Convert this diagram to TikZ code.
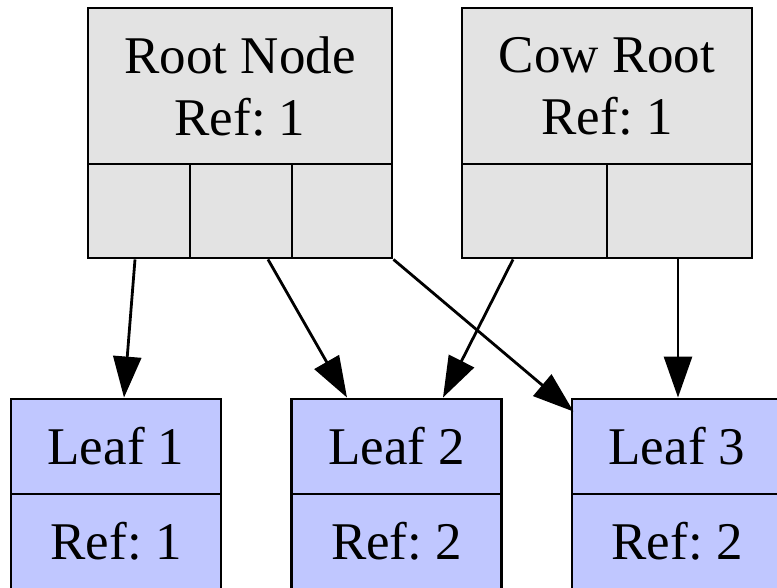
\documentclass[tikz,border=0pt]{standalone}
\usepackage{fontspec}
\setmainfont{Liberation Serif}
\frenchspacing
\usetikzlibrary{arrows.meta,calc}
\definecolor{rootfill}{HTML}{E3E3E3}
\definecolor{leaffill}{HTML}{C0C7FF}
\tikzset{
  cell/.style={draw=black, line width=2.9pt, inner sep=0pt, align=center,
    font=\fontsize{53}{62}\selectfont},
  rootcell/.style={cell, fill=rootfill},
  leafcell/.style={cell, fill=leaffill},
  link/.style={line width=2.8pt, -{Triangle[length=41pt,width=28pt]}}
}
\begin{document}
\begin{tikzpicture}[x=1pt,y=-1pt]
\useasboundingbox (0,0) rectangle (777,587);
\clip (0,0) rectangle (777,587);
% Root Node record
\node[rootcell, minimum width=304pt, minimum height=156pt] (r0) at (240,86) {Root Node\\Ref: 1};
\node[rootcell, minimum width=102pt, minimum height=94pt] (r1) at (139,211) {};
\node[rootcell, minimum width=102pt, minimum height=94pt] (r2) at (241,211) {};
\node[rootcell, minimum width=100pt, minimum height=94pt] (r3) at (342,211) {};
% Cow Root record
\node[rootcell, minimum width=290pt, minimum height=156pt] (c0) at (607,86) {Cow Root\\Ref: 1};
\node[rootcell, minimum width=145pt, minimum height=94pt] (c1) at (534.5,211) {};
\node[rootcell, minimum width=145pt, minimum height=94pt] (c2) at (679.5,211) {};
% Leaves
\node[leafcell, minimum width=210pt, minimum height=95pt] (l1a) at (116,446.5) {Leaf 1};
\node[leafcell, minimum width=210pt, minimum height=95pt] (l1b) at (116,541.5) {Ref: 1};
\node[leafcell, minimum width=210pt, minimum height=95pt] (l2a) at (396.5,446.5) {Leaf 2};
\node[leafcell, minimum width=210pt, minimum height=95pt] (l2b) at (396.5,541.5) {Ref: 2};
\node[leafcell, minimum width=210pt, minimum height=95pt] (l3a) at (677,446.5) {Leaf 3};
\node[leafcell, minimum width=210pt, minimum height=95pt] (l3b) at (677,541.5) {Ref: 2};
% Connectors
\draw[link] ([xshift=-4pt]r1.south) -- ([xshift=8pt]l1a.north);
\draw[link] ([xshift=27pt]r2.south) -- ([xshift=-49.5pt]l2a.north);
\draw[link] (r3.south east) -- ([xshift=3pt,yshift=-14pt]l3a.north west);
\draw[link] ([xshift=-21.5pt]c1.south) -- ([xshift=46.5pt]l2a.north);
\draw[link] ([xshift=-1.5pt]c2.south) -- ([xshift=1pt]l3a.north);
\end{tikzpicture}
\end{document}
